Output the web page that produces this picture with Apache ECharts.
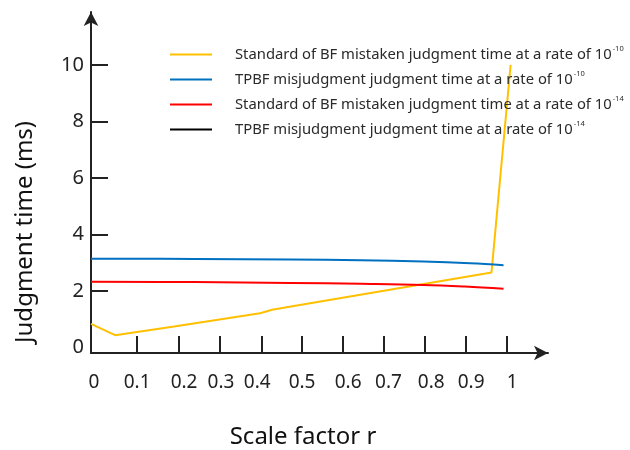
<!DOCTYPE html>
<html>
<head>
<meta charset="utf-8">
<script src="https://cdn.jsdelivr.net/npm/echarts@6/dist/echarts.min.js"></script>
<style>
  html, body { margin: 0; padding: 0; background: #fff; }
  #main { width: 630px; height: 450px; }
</style>
</head>
<body>
<div id="main"></div>
<script>
// series data, [r, time in ms]
const bf10 = [[0, 0.83], [0.058, 0.43], [0.2, 0.74], [0.407, 1.21], [0.436, 1.33], [0.492, 1.47], [0.964, 2.65], [1.01, 10.0]];
const tpbf10 = [[0, 3.14], [0.25, 3.13], [0.48, 3.11], [0.65, 3.08], [0.8, 3.04], [0.913, 2.98], [0.993, 2.91]];
const bf14 = [[0, 2.32], [0.25, 2.31], [0.48, 2.28], [0.65, 2.25], [0.8, 2.21], [0.9, 2.15], [0.993, 2.07]];
const tpbf14 = [];

const seriesNames = [
  'Standard of BF mistaken judgment time at a rate of 10',
  'TPBF misjudgment judgment time at a rate of 10',
  'Standard of BF mistaken judgment time at a rate of 10 ',
  'TPBF misjudgment judgment time at a rate of 10 '
];
const seriesExp = ['-10', '-10', '-14', '-14'];
const seriesColors = ['#FFC000', '#0070C0', '#FF0000', '#000000'];

// tick labels (the picture places them a little off the ticks)
const xLabelText = ['0', '0.1', '0.2', '0.3', '0.4', '0.5', '0.6', '0.7', '0.8', '0.9', '1'];
const xLabelAt = [0.007, 0.111, 0.224, 0.313, 0.400, 0.508, 0.619, 0.716, 0.819, 0.915, 1.014];
const xTickAt = [0.111, 0.212, 0.311, 0.410, 0.508, 0.607, 0.704, 0.803, 0.901, 1.0];
const yLabelAt = [0, 2, 4, 6, 8, 10];
const yTickAt = [2, 4, 6, 8, 10];

const font = '"Noto Sans", "Open Sans", sans-serif';
const axisColor = '#222';

const chart = echarts.init(document.getElementById('main'));

const allData = [bf10, tpbf10, bf14, tpbf14];

chart.setOption({
  animation: false,
  grid: { left: 91, right: 82, top: 12, bottom: 97, containLabel: false },
  legend: {
    orient: 'vertical',
    left: 165,
    top: 40,
    icon: 'rect',
    itemWidth: 42,
    itemHeight: 2,
    itemGap: 8,
    data: seriesNames,
    formatter: function (name) {
      const i = seriesNames.indexOf(name);
      return '{t|' + name.trim() + '}{s|' + seriesExp[i] + '}';
    },
    textStyle: {
      padding: [0, 0, 0, 18],
      overflow: 'none',
      rich: {
        t: { fontFamily: font, fontSize: 14.8, color: '#2a2a2a', lineHeight: 19 },
        s: { fontFamily: font, fontSize: 7.5, color: '#2a2a2a', verticalAlign: 'top', lineHeight: 10, padding: [0, 0, 0, 1] }
      }
    }
  },
  xAxis: {
    type: 'value',
    min: 0,
    max: 1.1,
    splitLine: { show: false },
    axisLine: {
      onZero: false,
      lineStyle: { color: axisColor, width: 2 },
      symbol: ['none', 'arrow'],
      symbolSize: [11, 14]
    },
    axisTick: {
      inside: true,
      length: 17,
      customValues: xTickAt,
      lineStyle: { color: axisColor, width: 2 }
    },
    axisLabel: {
      customValues: xLabelAt,
      margin: 20,
      fontSize: 19,
      fontFamily: font,
      color: '#222',
      formatter: function (v) {
        return xLabelText[xLabelAt.indexOf(v)];
      }
    }
  },
  yAxis: {
    type: 'value',
    min: -0.2,
    max: 11.87,
    splitLine: { show: false },
    axisLine: {
      onZero: false,
      lineStyle: { color: axisColor, width: 2 },
      symbol: ['none', 'arrow'],
      symbolSize: [11, 14]
    },
    axisTick: {
      inside: true,
      length: 17,
      customValues: yTickAt,
      lineStyle: { color: axisColor, width: 2 }
    },
    axisLabel: {
      customValues: yLabelAt,
      margin: 7,
      fontSize: 20,
      fontFamily: font,
      color: '#222'
    }
  },
  graphic: [
    {
      type: 'text',
      x: 25, y: 232,
      rotation: Math.PI / 2,
      style: {
        text: 'Judgment time (ms)',
        font: '24px ' + font,
        fill: '#111',
        align: 'center',
        verticalAlign: 'middle'
      }
    },
    {
      type: 'text',
      x: 303, y: 437,
      style: {
        text: 'Scale factor r',
        font: '24px ' + font,
        fill: '#111',
        align: 'center',
        verticalAlign: 'middle'
      }
    }
  ],
  series: seriesNames.map(function (name, i) {
    return {
      name: name,
      type: 'line',
      data: allData[i],
      smooth: i === 1 || i === 2 ? 0.4 : false,
      showSymbol: false,
      symbol: 'none',
      color: seriesColors[i],
      lineStyle: { width: 2, color: seriesColors[i] }
    };
  })
});
</script>
</body>
</html>
